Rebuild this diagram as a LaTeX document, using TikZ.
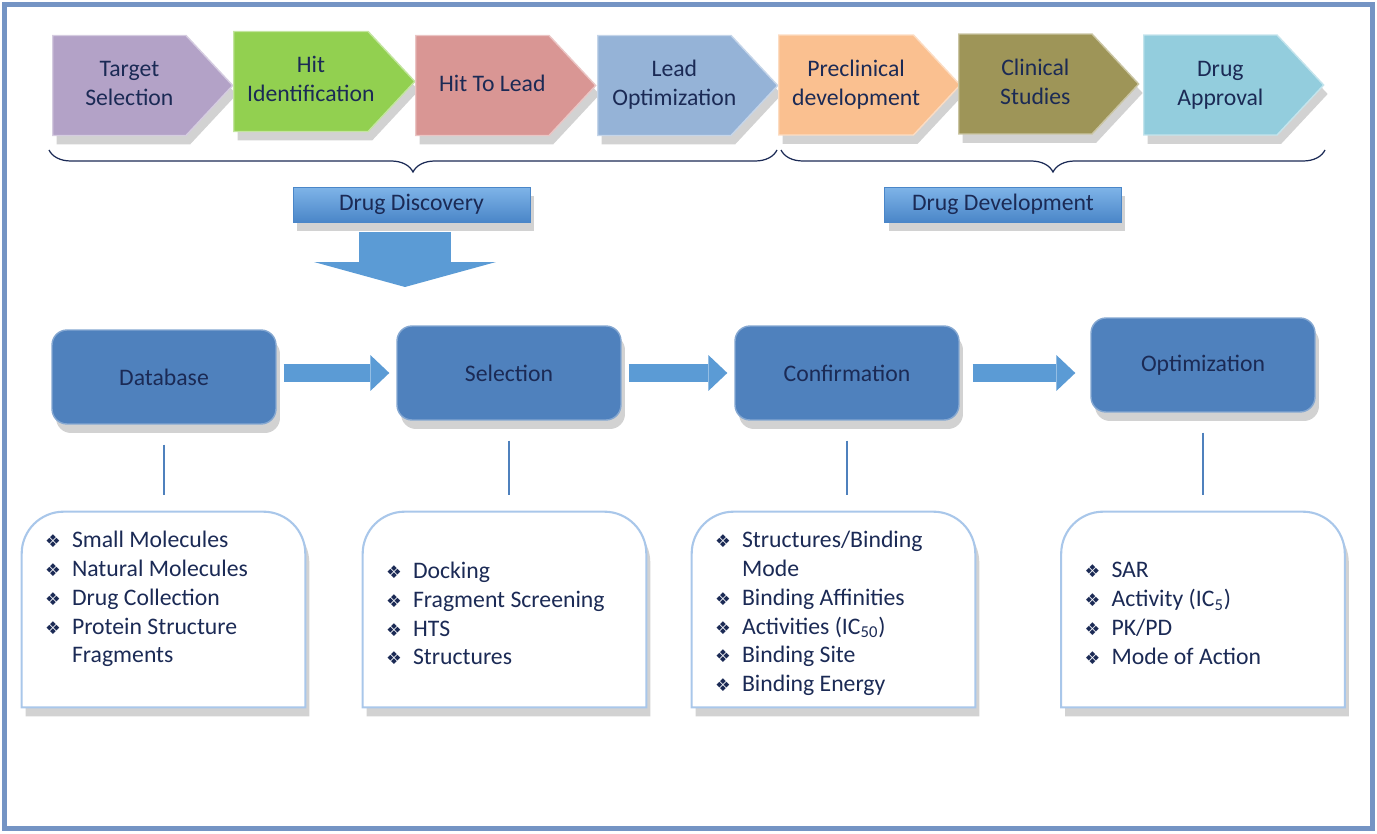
\documentclass[tikz,border=0pt]{standalone}
\usepackage{fontspec}
\setmainfont{Carlito}
\newfontfamily\symfont{DejaVu Sans}
\usetikzlibrary{shapes,arrows.meta,positioning,shadows,decorations.pathreplacing}

\definecolor{navy}{HTML}{1B2A55}
\definecolor{frameblue}{HTML}{7494C4}
\definecolor{boxblue}{HTML}{4F81BD}
\definecolor{arrowblue}{HTML}{5B9BD5}
\definecolor{bannerlt}{HTML}{7FB4E8}
\definecolor{bannerdk}{HTML}{4A86C8}
\definecolor{listedge}{HTML}{A9C7EA}
\definecolor{ctarget}{HTML}{B3A2C7}
\definecolor{chit}{HTML}{92D050}
\definecolor{clead}{HTML}{D99694}
\definecolor{copt}{HTML}{95B3D7}
\definecolor{cpre}{HTML}{FAC090}
\definecolor{cclin}{HTML}{9E9558}
\definecolor{cappr}{HTML}{93CDDD}

\newcommand{\itm}{\makebox[0.54cm][l]{\symfont\fontsize{10}{12}\selectfont ❖}}
\newcommand{\ph}[1]{\hspace*{0.2cm}\begin{tabular}{@{}c@{}}#1\end{tabular}\hspace*{-0.2cm}}

\begin{document}
\begin{tikzpicture}[
    x=0.02cm, y=0.02cm,
    font=\fontsize{13.5}{16.4}\selectfont, text=navy,
    softshadow/.style={drop shadow={opacity=0.25, shadow xshift=0.08cm, shadow yshift=-0.18cm, fill=black!70}},
    phase/.style={signal, signal to=east, signal pointer angle=94, minimum width=3.6cm, minimum height=2cm,
        inner sep=2pt, anchor=west, fill=#1, draw=#1!55!white, line width=0.8pt, softshadow},
    banner/.style={rectangle, minimum width=4.74cm, minimum height=0.7cm, top color=bannerlt, bottom color=bannerdk,
        draw=bannerdk, softshadow},
    stage/.style={rectangle, rounded corners=0.3cm, minimum width=4.48cm, minimum height=1.88cm,
        fill=boxblue, draw=boxblue!70!white, line width=0.8pt, softshadow},
    flow/.style={draw=arrowblue, line width=0.36cm, -{Triangle[length=0.38cm, width=0.72cm, line width=0pt]},
        shorten <=0.14cm, shorten >=0.14cm},
    bigdown/.style={draw=arrowblue, line width=1.84cm, -{Triangle[length=0.5cm, width=3.64cm, line width=0pt]},
        shorten <=0.2cm},
    stem/.style={draw=boxblue, line width=1.2pt, shorten <=0.4cm, shorten >=0.34cm},
    listbox/.style={draw=listedge, line width=1.2pt, fill=white, softshadow},
    listtxt/.style={align=left, inner sep=0pt, anchor=west},
    brace/.style={decorate, decoration={brace, mirror, amplitude=0.44cm}, draw=navy, line width=0.7pt}
]
\useasboundingbox (0,0) rectangle (1377,833);

% Cornice
\draw[frameblue, line width=0.1cm] (4.5,4.5) rectangle (1372.5,828.5);

% Fasi del processo
\node[phase=ctarget] (tsel)  at (52,747.5)  {\ph{Target\\Selection}};
\node[phase=chit]    (hitid) at (233,751.5) {\ph{Hit\\Identification}};
\node[phase=clead]   (h2l)   at (415,747.5) {\ph{Hit To Lead}};
\node[phase=copt]    (lopt)  at (597,747.5) {\ph{Lead\\Optimization}};
\node[phase=cpre]    (precl) at (778,748)   {\ph{Preclinical\\development}};
\node[phase=cclin]   (clin)  at (958,749)   {\ph{Clinical\\Studies}};
\node[phase=cappr]   (appr)  at (1143,748)  {\ph{Drug\\Approval}};

% Parentesi
\draw[brace] (49,683) -- (777,683);
\draw[brace] (781,683) -- (1325,683);

% Etichette
\node[banner] (disc)  at (411.5,628.5) {Drug Discovery};
\node[banner] (devel) at (1003,628.5)  {Drug Development};

% Freccia verso il basso
\coordinate (ddtip) at (405,546);
\draw[bigdown] (disc.south -| ddtip) -- (ddtip);

% Stadi
\node[stage] (db)   at (164,456)  {Database};
\node[stage] (sel)  at (509,460)  {Selection};
\node[stage] (conf) at (847,460)  {Confirmation};
\node[stage] (opt)  at (1203,468) {Optimization};

\draw[flow] (sel.west -| db.east) -- (sel.west);
\draw[flow] (sel.east) -- (sel.east -| conf.west);
\draw[flow, shorten <=0.26cm, shorten >=0.3cm] (conf.east) -- (conf.east -| opt.west);

% Riquadri con le liste
\node[minimum width=5.66cm, minimum height=3.9cm] (l1) at (163.5,223.5) {};
\node[minimum width=5.66cm, minimum height=3.9cm] (l2) at (504.5,223.5) {};
\node[minimum width=5.66cm, minimum height=3.9cm] (l3) at (833.5,223.5) {};
\node[minimum width=5.66cm, minimum height=3.9cm] (l4) at (1203,223.5) {};

\foreach \b in {l1,l2,l3,l4} {
    \draw[listbox] (\b.south west) -- ([yshift=-0.84cm]\b.north west)
        arc[start angle=180, end angle=90, radius=0.84cm] -- ([xshift=-0.84cm]\b.north east)
        arc[start angle=90, end angle=0, radius=0.84cm] -- (\b.south east) -- cycle;
}

\draw[stem] (db.south) -- (db.south |- l1.north);
\draw[stem] (sel.south) -- (sel.south |- l2.north);
\draw[stem] (conf.south) -- (conf.south |- l3.north);
\draw[stem] (opt.south) -- (opt.south |- l4.north);

\node[listtxt] (t1) at ([xshift=0.46cm, yshift=0.21cm]l1.west)
    {\itm Small Molecules\\ \itm Natural Molecules\\ \itm Drug Collection\\
     \itm Protein Structure\\ \hspace*{0.54cm}Fragments};
\node[listtxt] (t2) at ([xshift=0.46cm, yshift=-0.08cm]l2.west)
    {\itm Docking\\ \itm Fragment Screening\\ \itm HTS\\ \itm Structures};
\node[listtxt] (t3) at ([xshift=0.46cm, yshift=-0.08cm]l3.west)
    {\itm Structures/Binding\\ \hspace*{0.54cm}Mode\\ \itm Binding Affinities\\
     \itm Activities (IC\textsubscript{50})\\ \itm Binding Site\\ \itm Binding Energy};
\node[listtxt] (t4) at ([xshift=0.46cm, yshift=-0.08cm]l4.west)
    {\itm SAR\\ \itm Activity (IC\textsubscript{5})\\ \itm PK/PD\\ \itm Mode of Action};

\end{tikzpicture}
\end{document}
